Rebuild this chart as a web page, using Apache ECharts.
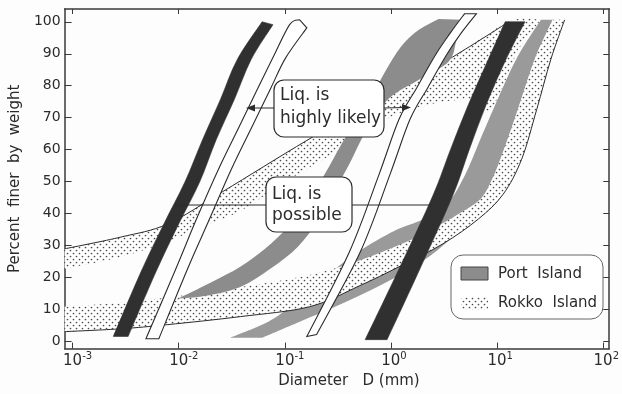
<!DOCTYPE html>
<html>
<head>
<meta charset="utf-8">
<script src="https://cdn.jsdelivr.net/npm/echarts@6.0.0/dist/echarts.min.js"></script>
<style>
html,body{margin:0;padding:0;background:#fdfdfd;}
#chart{width:622px;height:394px;}
</style>
</head>
<body>
<div id="chart"></div>
<script>
// ---------- texts / ticks ----------
const xTickExponents = [-3, -2, -1, 0, 1, 2];
const yTickValues = [0, 10, 20, 30, 40, 50, 60, 70, 80, 90, 100];
const xName = 'Diameter   D (mm)';
const yName = 'Percent  finer  by  weight';
const legendNames = ['Port  Island', 'Rokko  Island'];
const noteLikely = ['Liq. is', 'highly likely'];
const notePossible = ['Liq. is', 'possible'];

// ---------- boundary bands: [D (mm), percent finer] ----------
// "Liq. is possible" boundary (black), fine side
const possibleFineLeft  = [[2.42e-3,1.6],[4.41e-3,21.8],[7.24e-3,36.8],[1.14e-2,49.8],[1.68e-2,63.2],[2.47e-2,75.7],[3.56e-2,88.2],[6.10e-2,100]];
const possibleFineRight = [[3.34e-3,1.6],[6.10e-3,21.8],[1.00e-2,36.8],[1.57e-2,49.8],[2.26e-2,63.2],[3.34e-2,75.7],[4.81e-2,88.2],[7.72e-2,99.1]];
// "Liq. is highly likely" boundary (white), fine side
const likelyFineLeft  = [[4.91e-3,0.9],[9.38e-3,22.7],[1.47e-2,38.3],[2.37e-2,53.9],[3.80e-2,67.9],[5.59e-2,79.4],[7.72e-2,88.8],[0.111,99.1],[0.138,100.6]];
const likelyFineRight = [[6.50e-3,0.9],[1.21e-2,22.7],[1.95e-2,38.3],[3.13e-2,53.9],[5.02e-2,67.9],[7.40e-2,79.4],[0.102,88.8],[0.161,98.1]];
// "Liq. is highly likely" boundary (white), coarse side
const likelyCoarseLeft  = [[0.161,1.6],[0.405,28.0],[0.772,52.3],[1.19,69.5],[1.75,79.4],[2.63,89.7],[3.64,96.6],[4.92,102.5]];
const likelyCoarseRight = [[0.199,2.2],[0.513,28.0],[0.979,52.3],[1.51,69.5],[2.22,79.4],[3.34,89.7],[4.61,96.6],[6.37,102.5]];
// "Liq. is possible" boundary (black), coarse side
const possibleCoarseLeft  = [[0.571,0.6],[1.19,22.7],[2.47,45.5],[3.64,60.1],[5.36,74.1],[8.24,88.2],[11.9,100]];
const possibleCoarseRight = [[0.918,0.6],[1.87,22.7],[3.80,45.5],[5.47,60.1],[7.89,74.1],[12.1,88.2],[18.3,100]];

// ---------- Port Island (grey) ----------
const portALeft  = [[9.79e-3,13.4],[1.99e-2,18.4],[3.80e-2,23.4],[6.50e-2,29.0],[0.107,35.8],[0.164,43.9],[0.237,52.3],[0.341,61.7],[0.481,70.1],[0.650,76.3],[0.879,84.4],[1.24,92.2],[1.83,97.5],[2.81,100.9]];
const portARight = [[9.79e-3,13.4],[1.79e-2,14.3],[3.80e-2,17.1],[7.24e-2,22.7],[0.132,29.6],[0.203,37.7],[0.293,47.0],[0.405,55.5],[0.525,63.2],[0.694,70.1],[1.00,76.6],[1.83,81.9],[3.48,87.5],[4.14,94.4],[4.61,100.6]];
const portBLeft  = [[3.06e-2,1.2],[7.24e-2,6.5],[0.138,13.4],[0.263,21.2],[0.502,28.3],[1.07,34.6],[2.03,38.3],[3.48,43.6],[5.02,52.3],[6.64,61.7],[9.18,72.6],[15.1,88.2],[25.8,100.6]];
const portBRight = [[6.10e-2,1.2],[0.138,6.2],[0.327,11.5],[0.772,17.4],[1.64,23.4],[3.13,30.2],[5.59,38.9],[8.60,49.2],[11.6,60.1],[15.7,72.6],[22.6,88.2],[33.4,100.6]];

// ---------- Rokko Island (dotted) ----------
const rokkoAUpper = [[8.41e-4,29.0],[2.87e-3,32.7],[7.89e-3,36.8],[2.63e-2,47.0],[0.161,62.9],[0.842,76.6],[3.48,88.2],[12.9,100],[25.8,100.6]];
const rokkoALower = [[8.41e-4,22.7],[2.87e-3,26.5],[7.89e-3,31.2],[1.61e-2,35.8],[3.80e-2,40.8],[0.111,50.8],[0.327,60.1],[0.898,69.5],[2.27,74.1],[5.97,75.7],[8.79,72.6],[15.7,91.3]];
const rokkoBUpper = [[8.41e-4,10.9],[2.87e-3,12.1],[1.04e-2,14.3],[3.80e-2,17.1],[0.111,19.6],[0.263,22.4],[0.560,25.9],[1.19,30.2],[2.27,34.6],[4.32,39.9],[6.94,44.5],[8.98,50.8],[11.6,60.1],[15.7,72.6],[22.6,88.2],[33.4,100.6]];
const rokkoBLower = [[8.41e-4,3.1],[2.87e-3,4.0],[7.89e-3,5.3],[3.80e-2,7.8],[0.171,10.9],[0.502,17.4],[1.19,23.4],[3.06,30.5],[6.64,38.3],[11.4,46.1],[17.0,57.0],[23.6,72.6],[32.0,88.2],[43.2,100.6]];

// ---------- styling ----------
const FONT = '"DejaVu Sans", sans-serif';
const INK = '#2b2b2b';
const DARK = '#303030';
const GREY_A = '#8c8c8c';
const GREY_B = '#9a9a9a';

const dotTile = document.createElement('canvas');
dotTile.width = 6; dotTile.height = 6;
(function(){
  const g = dotTile.getContext('2d');
  g.fillStyle = '#ffffff'; g.fillRect(0, 0, 6, 6);
  g.fillStyle = '#4a4a4a';
  [[1.5,1.5],[4.5,4.5]].forEach(function(p){ g.beginPath(); g.arc(p[0], p[1], 0.85, 0, Math.PI*2); g.fill(); });
})();
const DOTS = {image: dotTile, repeat: 'repeat'};

function toXY(arr){ return arr.map(function(p){ return [Math.log10(p[0]), p[1]]; }); }

// smooth (Catmull-Rom) path through projected pixel points
function curveSeg(pts, moveFirst){
  let d = (moveFirst ? 'M' : 'L') + pts[0][0].toFixed(2) + ' ' + pts[0][1].toFixed(2);
  for (let i = 0; i < pts.length - 1; i++) {
    const p0 = pts[i - 1] || pts[i], p1 = pts[i], p2 = pts[i + 1], p3 = pts[i + 2] || pts[i + 1];
    const c1x = p1[0] + (p2[0] - p0[0]) / 6, c1y = p1[1] + (p2[1] - p0[1]) / 6;
    const c2x = p2[0] - (p3[0] - p1[0]) / 6, c2y = p2[1] - (p3[1] - p1[1]) / 6;
    d += ' C' + c1x.toFixed(2) + ' ' + c1y.toFixed(2) + ' ' + c2x.toFixed(2) + ' ' + c2y.toFixed(2) + ' ' + p2[0].toFixed(2) + ' ' + p2[1].toFixed(2);
  }
  return d;
}

function band(name, edgeA, edgeB, style, z, strokeEdge){
  const a = toXY(edgeA), b = toXY(edgeB).reverse();
  const all = a.concat(b);
  const s = strokeEdge ? toXY(strokeEdge) : null;
  return {
    type: 'custom', name: name, z: z, silent: true,
    data: all, encode: {x: 0, y: 1},
    renderItem: function(params, api){
      if (params.dataIndex !== 0) return null;
      const pa = a.map(function(p){ return api.coord(p); });
      const pb = b.map(function(p){ return api.coord(p); });
      const d = curveSeg(pa, true) + ' ' + curveSeg(pb, false) + ' Z';
      const children = [{type: 'path', shape: {pathData: d}, style: style}];
      if (s) {
        const ps = s.map(function(p){ return api.coord(p); });
        children.push({type: 'path', shape: {pathData: curveSeg(ps, true)},
          style: {stroke: INK, lineWidth: 1, fill: null}});
      }
      return {type: 'group', children: children};
    }
  };
}

const series = [
  band('Port Island B', portBLeft, portBRight, {fill: GREY_B}, 1),
  band('Rokko Island B', rokkoBUpper, rokkoBLower, {fill: DOTS}, 2, rokkoBLower),
  band('Rokko Island A', rokkoAUpper, rokkoALower, {fill: DOTS}, 3, rokkoAUpper.slice(0, -1)),
  band('Port Island A', portALeft, portARight, {fill: GREY_A}, 4),
  band('highly likely fine', likelyFineLeft, likelyFineRight, {fill: '#ffffff', stroke: INK, lineWidth: 1.1}, 6),
  band('highly likely coarse', likelyCoarseLeft, likelyCoarseRight, {fill: '#ffffff', stroke: INK, lineWidth: 1.1}, 6),
  band('possible fine', possibleFineLeft, possibleFineRight, {fill: DARK, stroke: DARK, lineWidth: 0.6}, 7),
  band('possible coarse', possibleCoarseLeft, possibleCoarseRight, {fill: DARK, stroke: DARK, lineWidth: 0.6}, 7)
];

const axisLine = {show: true, onZero: false, lineStyle: {color: '#3a3a3a', width: 1.5}};
const tickLine = {color: '#3a3a3a', width: 1};

function xLabel(v){
  const e = Math.round(v);
  return (e < 0 ? '{pn| }' : '{pp| }') + '{b|10}{s|' + String(e) + '}';
}

function txt(x, y, s, size){
  return {type: 'text', x: x, y: y, z: 100, silent: true,
    style: {text: s, fill: INK, fontSize: size, fontFamily: FONT,
      textAlign: 'left', align: 'left', textVerticalAlign: 'middle', verticalAlign: 'middle'}};
}
function ln(x1, y1, x2, y2){
  return {type: 'line', z: 100, silent: true, shape: {x1: x1, y1: y1, x2: x2, y2: y2}, style: {stroke: INK, lineWidth: 1}};
}
function tri(pts){
  return {type: 'polygon', z: 100, silent: true, shape: {points: pts}, style: {fill: INK}};
}

const graphic = [
  ln(175, 205, 266, 205),
  ln(352, 205, 432, 205),
  ln(274, 108, 252, 108), tri([[246,108],[255,104.5],[255,111.5]]),
  ln(384, 108, 404, 107.5), tri([[411,107.5],[402,104],[402,111]]),
  {type: 'rect', z: 100, silent: true, shape: {x: 274, y: 80, width: 110, height: 57, r: 10}, style: {fill: '#ffffff', stroke: INK, lineWidth: 1.2}},
  txt(280, 96, noteLikely[0], 17),
  txt(280, 119, noteLikely[1], 17),
  {type: 'rect', z: 100, silent: true, shape: {x: 266, y: 177, width: 86, height: 55, r: 10}, style: {fill: '#ffffff', stroke: INK, lineWidth: 1.2}},
  txt(272, 195, notePossible[0], 17),
  txt(272, 216, notePossible[1], 17),
  {type: 'rect', z: 100, silent: true, shape: {x: 451, y: 255, width: 152, height: 64, r: 12}, style: {fill: '#ffffff', stroke: '#666666', lineWidth: 1}},
  {type: 'rect', z: 100, silent: true, shape: {x: 461, y: 267, width: 27, height: 13}, style: {fill: GREY_A, stroke: '#444444', lineWidth: 1}},
  txt(498, 274, legendNames[0], 15),
  {type: 'rect', z: 100, silent: true, shape: {x: 461, y: 297, width: 27, height: 13}, style: {fill: DOTS}},
  txt(498, 303, legendNames[1], 15)
];

const chart = echarts.init(document.getElementById('chart'), null, {renderer: 'canvas'});
chart.setOption({
  animation: false,
  backgroundColor: '#fdfdfd',
  grid: {left: 63, right: 9, top: 9, bottom: 44, containLabel: false},
  xAxis: [{
    type: 'value', position: 'bottom', min: -3.075, max: 2.056,
    axisLine: axisLine,
    axisTick: {show: true, inside: true, length: 6, customValues: xTickExponents, lineStyle: tickLine},
    axisLabel: {show: true, customValues: xTickExponents, margin: 3, formatter: xLabel,
      rich: {
        b: {fontSize: 15, fontFamily: FONT, color: INK, lineHeight: 20},
        s: {fontSize: 10, fontFamily: FONT, color: INK, lineHeight: 10, verticalAlign: 'top'},
        pn: {width: 10, fontSize: 10},
        pp: {width: 6, fontSize: 10}
      }},
    splitLine: {show: false},
    name: xName, nameLocation: 'middle', nameGap: 23,
    nameTextStyle: {fontSize: 15, fontFamily: FONT, color: INK, padding: [0, 0, 0, 24]}
  }, {
    type: 'value', position: 'top', min: -3.075, max: 2.056,
    axisLine: axisLine,
    axisTick: {show: true, inside: true, length: 5, customValues: xTickExponents, lineStyle: tickLine},
    axisLabel: {show: false}, splitLine: {show: false}
  }],
  yAxis: [{
    type: 'value', position: 'left', min: -2.2, max: 104,
    axisLine: axisLine,
    axisTick: {show: true, inside: true, length: 7, customValues: yTickValues, lineStyle: tickLine},
    axisLabel: {show: true, customValues: yTickValues, margin: 4, fontSize: 14, fontFamily: FONT, color: INK},
    splitLine: {show: false},
    name: yName, nameLocation: 'middle', nameGap: 34, nameRotate: 90,
    nameTextStyle: {fontSize: 15, fontFamily: FONT, color: INK}
  }, {
    type: 'value', position: 'right', min: -2.2, max: 104,
    axisLine: axisLine,
    axisTick: {show: true, inside: true, length: 6, customValues: yTickValues, lineStyle: tickLine},
    axisLabel: {show: false}, splitLine: {show: false}
  }],
  series: series,
  graphic: graphic
});
</script>
</body>
</html>
